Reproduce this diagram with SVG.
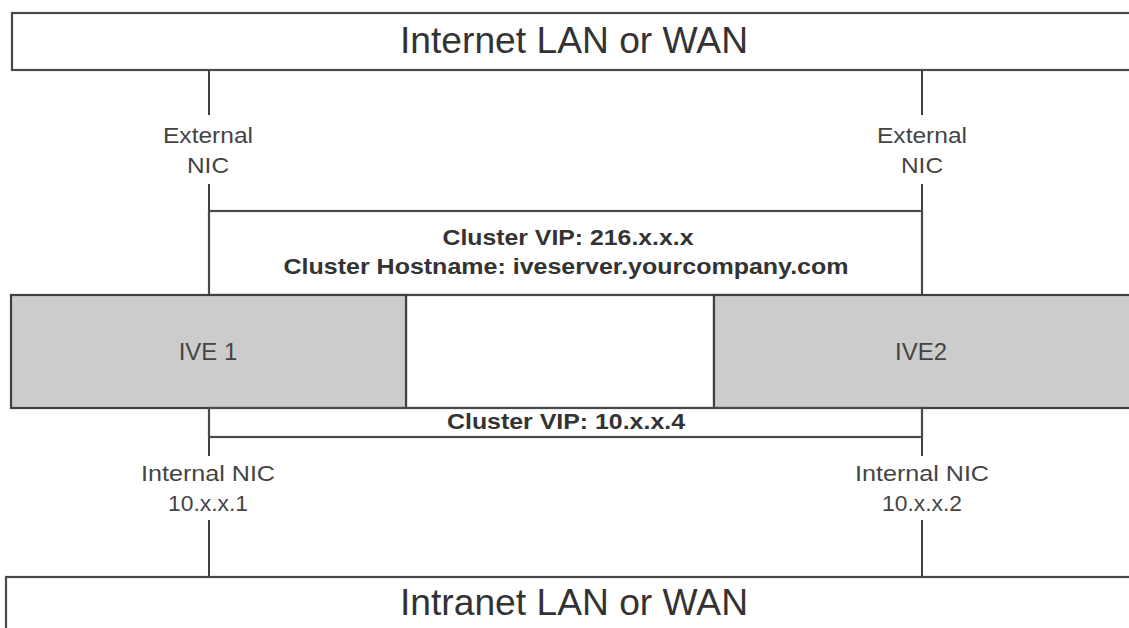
<svg xmlns="http://www.w3.org/2000/svg" width="1129" height="628" viewBox="0 0 1129 628">
<style>
.box{fill:#ffffff;stroke:#4a4a4a;stroke-width:2.2}
.ive{fill:#cccccc;stroke:#404040;stroke-width:2.2}
.ln{stroke:#404040;stroke-width:2;fill:none}
.big{font-family:"Liberation Sans",Arial,sans-serif;font-size:36px;fill:#333333;text-anchor:middle}
.lbl{font-family:"Liberation Sans",Arial,sans-serif;font-size:22px;fill:#444444;text-anchor:middle}
.bold{font-family:"Liberation Sans",Arial,sans-serif;font-size:22px;font-weight:bold;fill:#333333;text-anchor:middle}
.ivet{font-family:"Liberation Sans",Arial,sans-serif;font-size:24px;fill:#444444;text-anchor:middle}
</style>
<rect width="1129" height="628" fill="#ffffff"/>
<g id="internet">
<rect class="box" x="12" y="13" width="1130" height="57"/>
<text class="big" x="574" y="53" textLength="348" lengthAdjust="spacingAndGlyphs">Internet LAN or WAN</text>
</g>
<g id="connectors">
<line class="ln" x1="209" y1="70" x2="209" y2="115"/>
<line class="ln" x1="209" y1="184" x2="209" y2="211"/>
<line class="ln" x1="922" y1="70" x2="922" y2="115"/>
<line class="ln" x1="922" y1="184" x2="922" y2="211"/>
<line class="ln" x1="209" y1="437" x2="209" y2="456"/>
<line class="ln" x1="209" y1="520" x2="209" y2="577"/>
<line class="ln" x1="922" y1="437" x2="922" y2="456"/>
<line class="ln" x1="922" y1="520" x2="922" y2="577"/>
</g>
<g id="ext-nic-1">
<text class="lbl" x="208" y="143" textLength="90" lengthAdjust="spacingAndGlyphs">External</text>
<text class="lbl" x="208" y="173" textLength="42" lengthAdjust="spacingAndGlyphs">NIC</text>
</g>
<g id="ext-nic-2">
<text class="lbl" x="922" y="143" textLength="90" lengthAdjust="spacingAndGlyphs">External</text>
<text class="lbl" x="922" y="173" textLength="42" lengthAdjust="spacingAndGlyphs">NIC</text>
</g>
<g id="cluster-vip-ext">
<rect class="box" x="209" y="211" width="713" height="84"/>
<text class="bold" x="568" y="245" textLength="251" lengthAdjust="spacingAndGlyphs">Cluster VIP: 216.x.x.x</text>
<text class="bold" x="566" y="274" textLength="565" lengthAdjust="spacingAndGlyphs">Cluster Hostname: iveserver.yourcompany.com</text>
</g>
<g id="middle">
<rect class="box" x="406" y="295" width="308" height="113"/>
</g>
<g id="ive1">
<rect class="ive" x="11" y="295" width="395" height="113"/>
<text class="ivet" x="208" y="360">IVE 1</text>
</g>
<g id="ive2">
<rect class="ive" x="714" y="295" width="430" height="113"/>
<text class="ivet" x="921" y="360">IVE2</text>
</g>
<g id="cluster-vip-int">
<rect class="box" x="209" y="408" width="713" height="29"/>
<text class="bold" x="566" y="429" textLength="238" lengthAdjust="spacingAndGlyphs">Cluster VIP: 10.x.x.4</text>
</g>
<g id="int-nic-1">
<text class="lbl" x="208" y="481" textLength="134" lengthAdjust="spacingAndGlyphs">Internal NIC</text>
<text class="lbl" x="208" y="511" textLength="80" lengthAdjust="spacingAndGlyphs">10.x.x.1</text>
</g>
<g id="int-nic-2">
<text class="lbl" x="922" y="481" textLength="134" lengthAdjust="spacingAndGlyphs">Internal NIC</text>
<text class="lbl" x="922" y="511" textLength="80" lengthAdjust="spacingAndGlyphs">10.x.x.2</text>
</g>
<g id="intranet">
<rect class="box" x="6" y="577" width="1130" height="60"/>
<text class="big" x="574" y="615" textLength="348" lengthAdjust="spacingAndGlyphs">Intranet LAN or WAN</text>
</g>
</svg>
